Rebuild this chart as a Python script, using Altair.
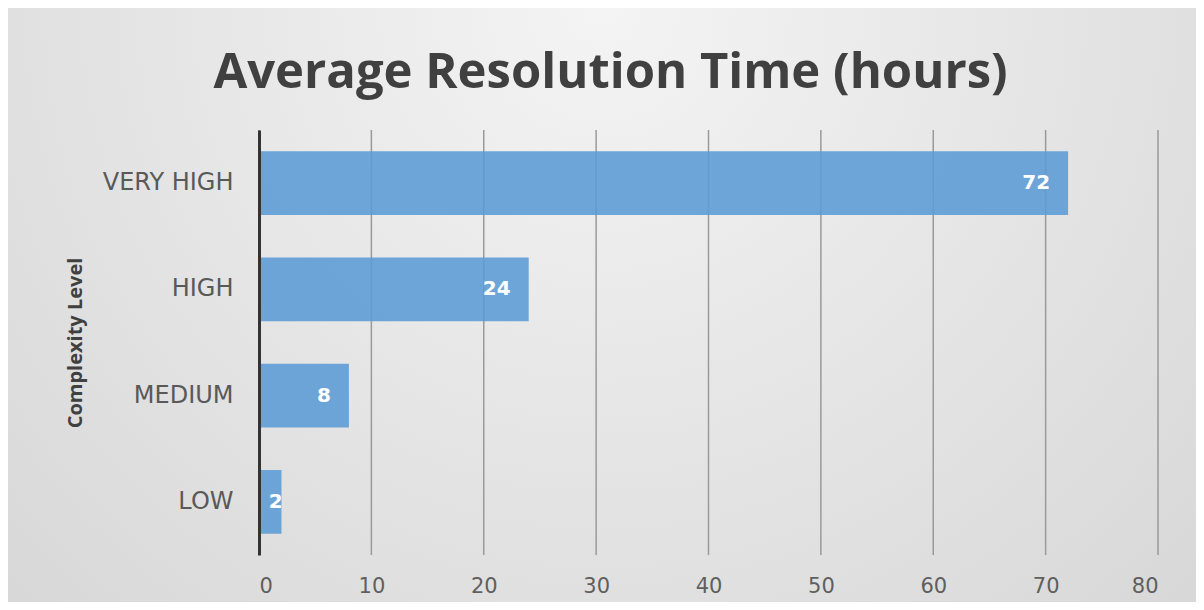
import altair as alt
import pandas as pd

categories = ["VERY HIGH", "HIGH", "MEDIUM", "LOW"]
hours = [72, 24, 8, 2]
x_ticks = [0, 10, 20, 30, 40, 50, 60, 70, 80]

df = pd.DataFrame({"level": categories, "hours": hours})
grid_df = pd.DataFrame({"tick": x_ticks})
bg_df = pd.DataFrame({"k": [0]})

W, H = 899, 425
PL, PT, PR, PB = 251, 122, 38, 47

xscale = alt.Scale(domain=[0, 80], nice=False, zero=True)

bg = alt.Chart(bg_df).mark_rect(
    color=alt.RadialGradient(
        gradient="radial", x1=0.5, y1=0.25, r1=0.0, x2=0.5, y2=0.25, r2=0.85,
        stops=[alt.GradientStop(offset=0, color="#f4f4f4"),
               alt.GradientStop(offset=1, color="#d2d2d2")]
    )
).encode(
    x=alt.value(-PL), x2=alt.value(W + PR), y=alt.value(-PT), y2=alt.value(H + PB)
)

grid = alt.Chart(grid_df).mark_rule(color="#9a9a9a", strokeWidth=1.5).encode(
    x=alt.X("tick:Q", scale=xscale)
)

bars = alt.Chart(df).mark_bar(color="#5b9bd5", opacity=0.88).encode(
    y=alt.Y("level:N", sort=categories,
            scale=alt.Scale(paddingInner=0.4, paddingOuter=0.2),
            axis=alt.Axis(title="Complexity Level", titleFont="Open Sans",
                          titleFontSize=20, titleFontWeight="bold", titleColor="#404040",
                          titlePadding=17, labelFont="DejaVu Sans", labelFontSize=24,
                          labelColor="#595959", labelPadding=26, ticks=False,
                          domainColor="#333333", domainWidth=3, zindex=1, grid=False)),
    x=alt.X("hours:Q", scale=xscale,
            axis=alt.Axis(title=None, values=x_ticks, labelFont="DejaVu Sans",
                          labelFontSize=21, labelColor="#5f5f5f", labelPadding=20,
                          ticks=False, domain=False, grid=False, zindex=1)),
)

labels = alt.Chart(df).transform_calculate(
    lx="max(datum.hours, 3.7)"
).mark_text(align="right", dx=-18, font="DejaVu Sans", fontSize=20,
            fontWeight="bold", color="white").encode(
    y=alt.Y("level:N", sort=categories),
    x=alt.X("lx:Q", scale=xscale),
    text=alt.Text("hours:Q"),
)

chart = alt.layer(bg, grid, bars, labels).properties(
    width=W, height=H,
    padding={"left": PL, "top": PT, "right": PR, "bottom": PB},
    autosize=alt.AutoSizeParams(type="none"),
    background="#dedede",
    title=alt.TitleParams(
        "Average Resolution Time (hours)", font="Open Sans", fontSize=49,
        fontWeight="bold", color="#404040", anchor="middle", frame="group",
        dx=-98, offset=-90,
    ),
).configure_view(stroke=None)

chart.save("out.html", embed_options={"renderer": "svg", "actions": False})
